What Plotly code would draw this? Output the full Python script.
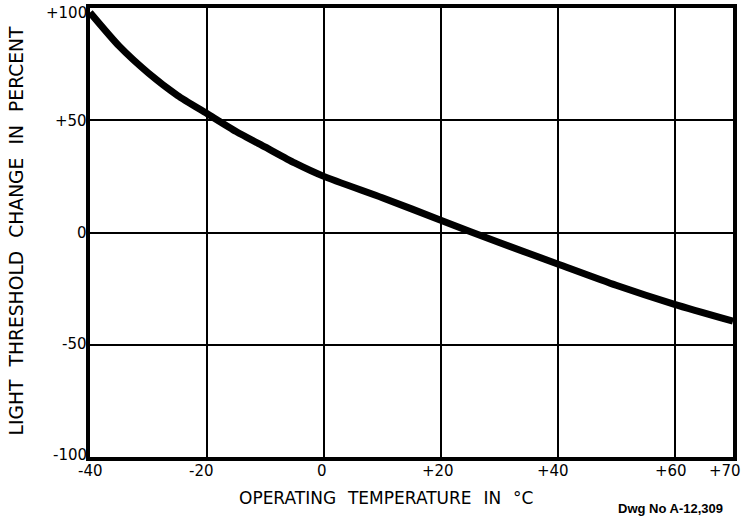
import plotly.graph_objects as go

temps = [-40, -35, -30, -25, -20, -15, -10, -5, 0, 10, 20, 30, 40, 50, 60, 70]
change = [98, 83, 71, 61, 53, 45, 38, 31, 25, 15.5, 5.5, -4.5, -14, -23.5, -32, -39.5]

x_ticks = [-40, -20, 0, 20, 40, 60, 70]
x_tick_text = ["-40", "-20", "0", "+20", "+40", "+60", "+70"]
y_ticks = [-100, -50, 0, 50, 100]
y_tick_text = ["-100", "-50", "0", "+50", "+100"]

FONT = "DejaVu Sans"
XSP = "\u2002\u2009"
YSP = "\u2002\u2009"

L, R, T, B = 90, 4, 8, 59
W, H = 741, 516
pw, ph = W - L - R, H - T - B
def px(xp):
    return (xp - L) / pw
def py(yp):
    return (H - B - yp) / ph

fig = go.Figure()
fig.add_trace(go.Scatter(x=temps, y=change, mode="lines",
                         line=dict(color="black", width=7, shape="spline", smoothing=0.6),
                         hoverinfo="skip"))

fig.update_xaxes(range=[-40, 70], tickvals=[-20, 0, 20, 40, 60], showticklabels=False,
                 showgrid=True, gridcolor="black", gridwidth=1.5, zeroline=False,
                 showline=True, linecolor="black", linewidth=4, mirror=True, ticks="")
fig.update_yaxes(range=[-100, 100], tickvals=[-50, 0, 50], showticklabels=False,
                 showgrid=True, gridcolor="black", gridwidth=1.5, zeroline=False,
                 showline=True, linecolor="black", linewidth=4, mirror=True, ticks="")

tick_font = dict(family=FONT, size=15, color="black")
annotations = []
x_shift = {-40: 0, -20: -5, 0: -2, 20: -3, 40: -5, 60: -4}
for v, t in zip(x_ticks, x_tick_text):
    if v == 70:
        annotations.append(dict(x=v, y=0, xref="x", yref="paper", text=t, showarrow=False,
                                xanchor="left", yanchor="top", yshift=-3, xshift=-26, font=tick_font))
    else:
        annotations.append(dict(x=v, y=0, xref="x", yref="paper", text=t, showarrow=False,
                                xanchor="center", yanchor="top", yshift=-3, xshift=x_shift[v], font=tick_font))
y_shift = {-100: 2, -50: 1, 0: 0, 50: -1, 100: -5}
for v, t in zip(y_ticks, y_tick_text):
    annotations.append(dict(x=0, y=v, xref="paper", yref="y", text=t, showarrow=False,
                            xanchor="right", yanchor="middle", xshift=-1, yshift=y_shift[v], font=tick_font))

annotations.append(dict(x=px(388), y=py(498), xref="paper", yref="paper",
                        xanchor="center", yanchor="middle",
                        text=XSP.join(["OPERATING", "TEMPERATURE", "IN", "°C"]),
                        showarrow=False, font=dict(family=FONT, size=17, color="black")))
annotations.append(dict(x=px(17), y=py(231), xref="paper", yref="paper",
                        xanchor="center", yanchor="middle",
                        text=YSP.join(["LIGHT", "THRESHOLD", "CHANGE", "IN", "PERCENT"]),
                        showarrow=False, textangle=-90, font=dict(family=FONT, size=18.7, color="black")))
annotations.append(dict(x=px(729), y=py(508), xref="paper", yref="paper", text="<b>Dwg No A-12,309</b>",
                        showarrow=False, xanchor="right", yanchor="middle",
                        font=dict(family="Liberation Sans", size=13, color="black")))

fig.update_layout(width=W, height=H, margin=dict(l=L, r=R, t=T, b=B),
                  paper_bgcolor="white", plot_bgcolor="white", showlegend=False,
                  annotations=annotations)

fig.write_html("out.html", config={"displayModeBar": False},
               post_script="document.body.style.margin='0';")
